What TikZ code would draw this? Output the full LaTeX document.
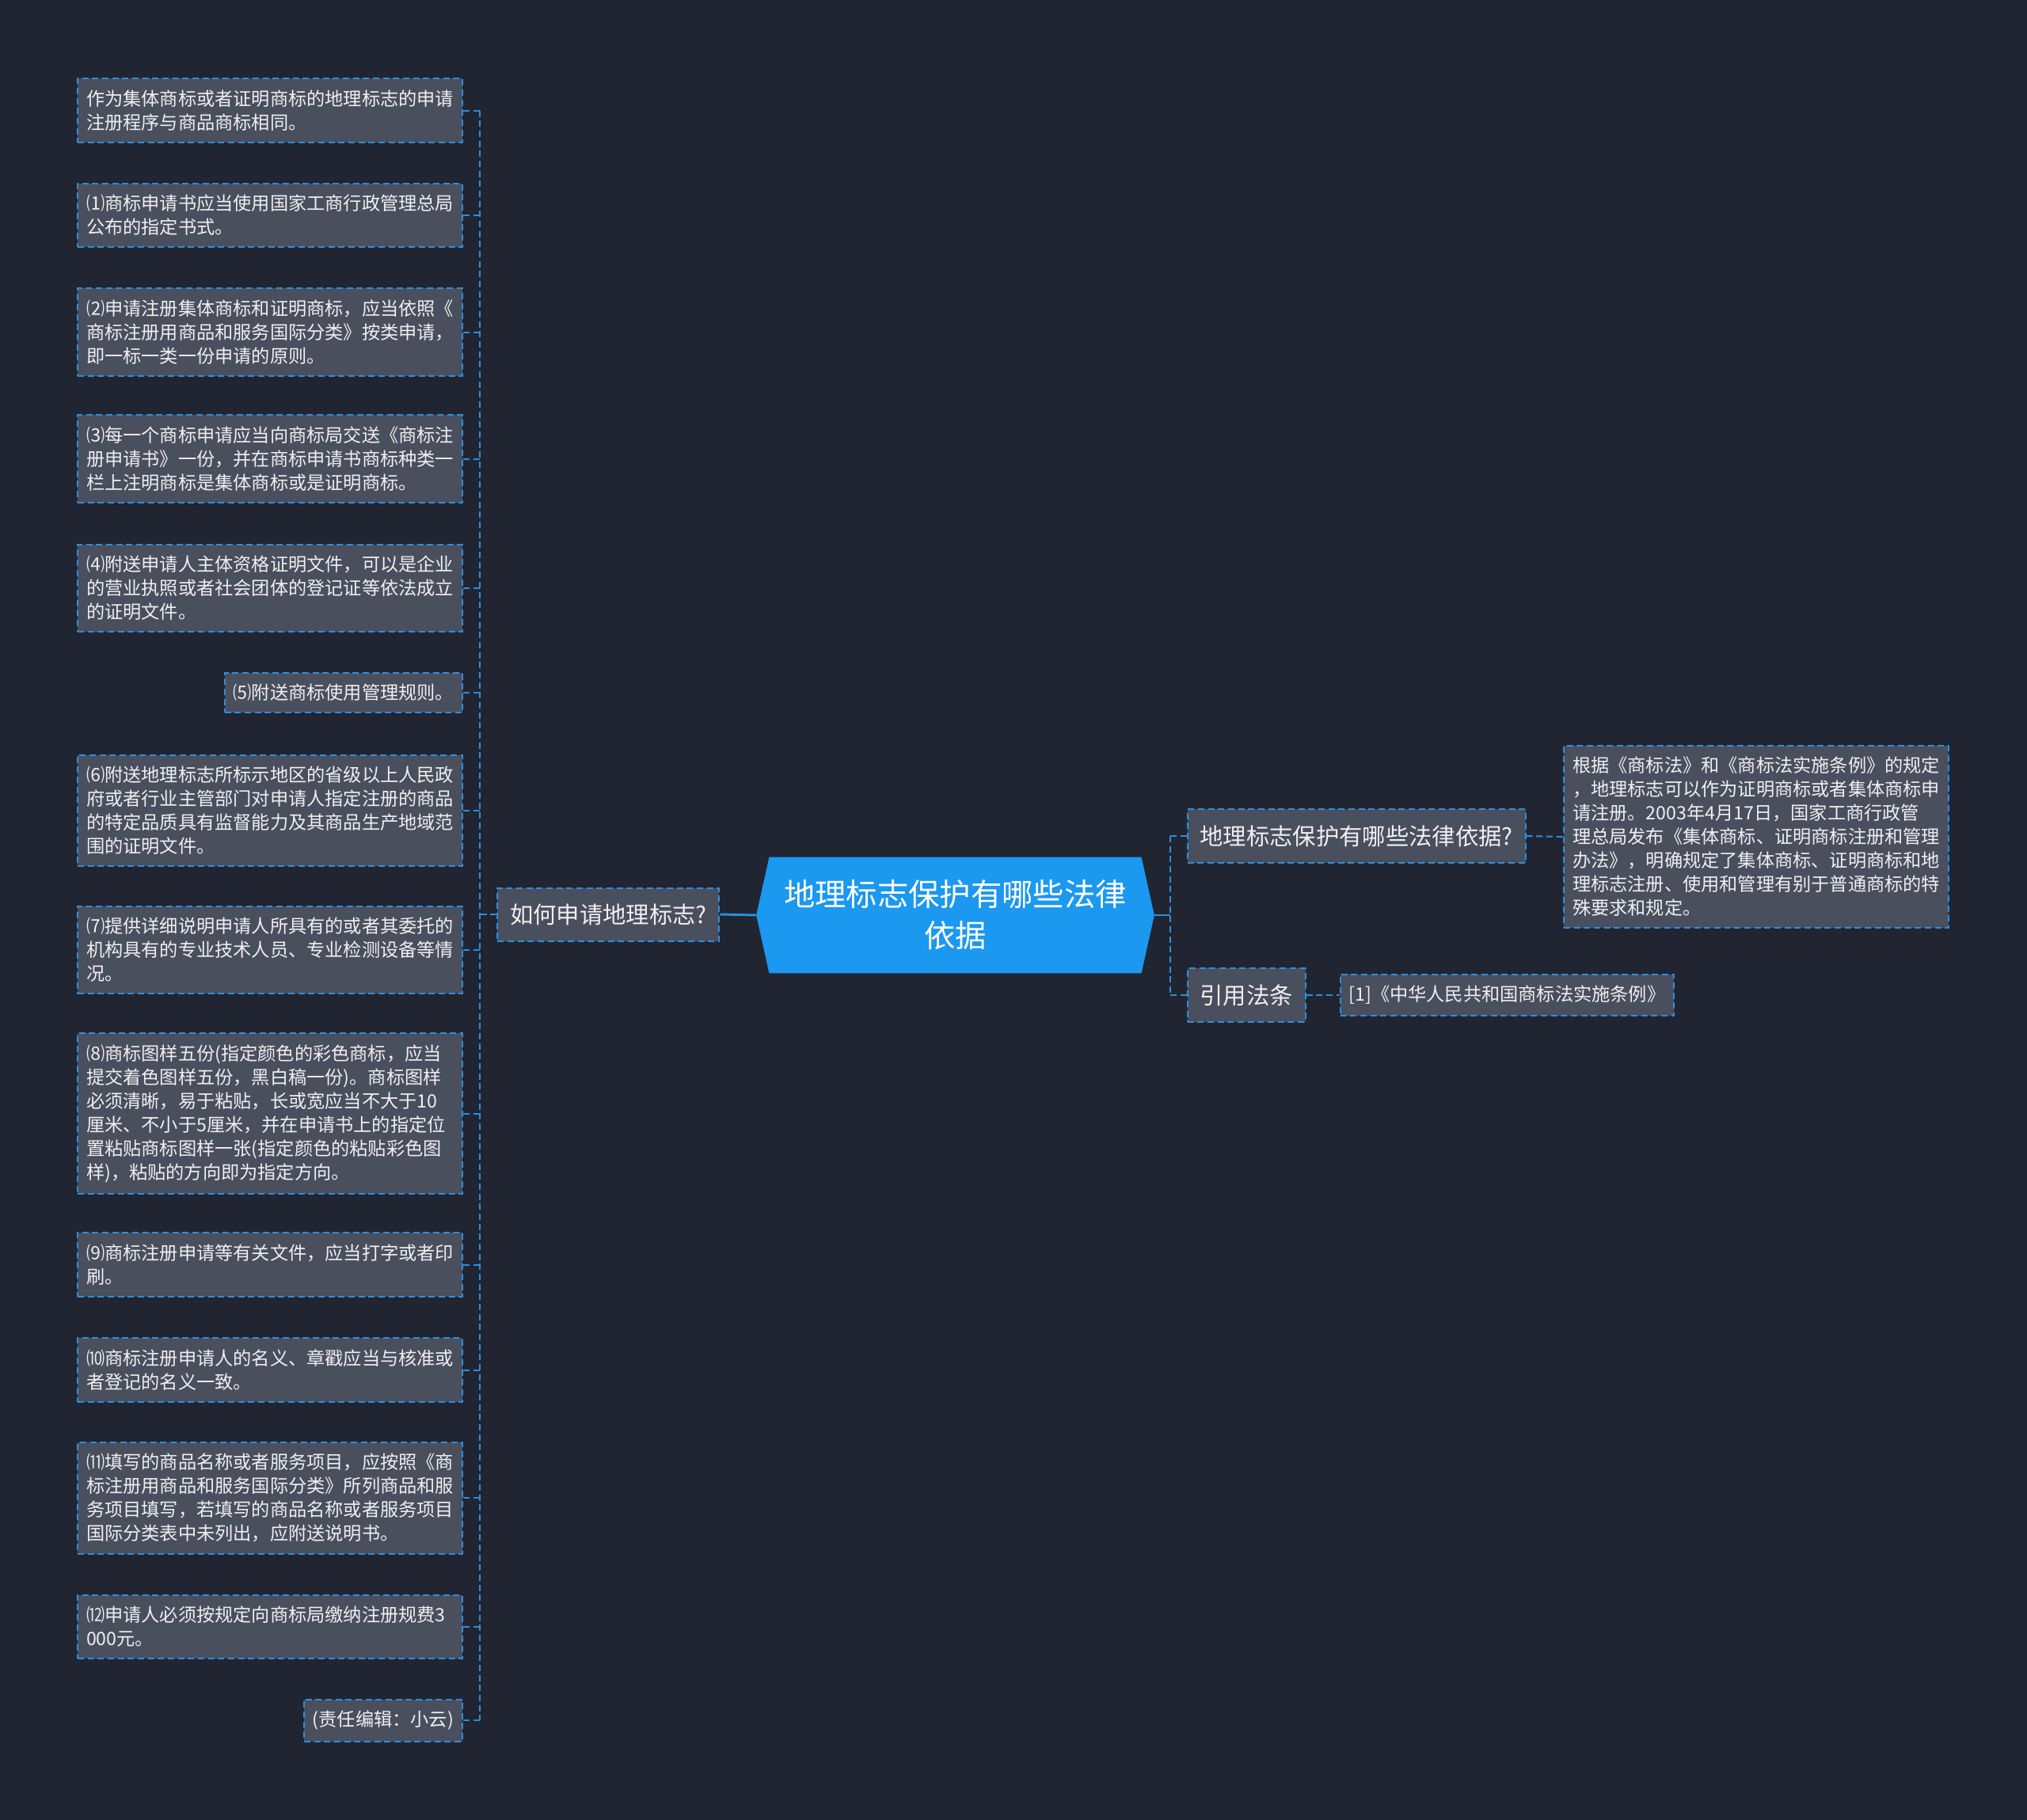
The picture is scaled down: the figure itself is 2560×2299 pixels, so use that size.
\documentclass[tikz,border=0pt]{standalone}
\usepackage{fontspec}
\setmainfont{Noto Sans CJK SC}
\usepackage{tikz}
\usetikzlibrary{shapes.symbols}

\definecolor{bgdark}{HTML}{212531}
\definecolor{boxgray}{HTML}{4A4F5E}
\definecolor{linkblue}{HTML}{2A8FE0}
\definecolor{rootblue}{HTML}{1B98F0}
\definecolor{txtlight}{HTML}{F0F0F0}

\tikzset{
  leaf/.style={draw=linkblue, line width=1.5pt, dash pattern=on 6pt off 3.5pt,
    fill=boxgray, text=txtlight, font=\fontsize{17.4}{22.5}\selectfont,
    inner xsep=8.25pt, inner ysep=10.8pt, anchor=east},
  widebox/.style={text width=348pt, align=left},
  topic/.style={leaf, font=\fontsize{22}{28}\selectfont, inner xsep=11.8pt, inner ysep=15pt},
  root/.style={shape=signal, signal to=west and east, signal pointer angle=155,
    fill=rootblue, text=white, font=\fontsize{29.5}{39}\selectfont, align=center,
    minimum width=377pt, minimum height=110pt, inner sep=0pt},
  link/.style={linkblue, line width=1.5pt, dash pattern=on 6pt off 3.5pt},
  solidlink/.style={linkblue, line width=2.2pt},
}

\begin{document}
\begin{tikzpicture}[x=0.75pt, y=-0.75pt]
    % background
    \fill[bgdark] (0,0) rectangle (2560,2299);
    \useasboundingbox (0,0) rectangle (2560,2299);

    % central topic
    \node[root] (root) at (1206.5,1156) {地理标志保护有哪些法律\\依据};

    % main branches
    \node[topic] (ask) at (909.4,1155) {如何申请地理标志?};
    \node[topic, anchor=west] (basis) at (1498.8,1056) {地理标志保护有哪些法律依据?};
    \node[topic, anchor=west] (cite) at (1498.8,1257) {引用法条};

    % right details
    \node[leaf, widebox, anchor=west] (basisTxt) at (1974,1057) {根据《商标法》和《商标法实施条例》的规定\\，地理标志可以作为证明商标或者集体商标申\\请注册。2003年4月17日，国家工商行政管\\理总局发布《集体商标、证明商标注册和管理\\办法》，明确规定了集体商标、证明商标和地\\理标志注册、使用和管理有别于普通商标的特\\殊要求和规定。};
    \node[leaf, anchor=west] (citeTxt) at (1691.5,1257) {[1]《中华人民共和国商标法实施条例》};

    % left details
    \node[leaf, widebox] (s0) at (585,139.6) {作为集体商标或者证明商标的地理标志的申请\\注册程序与商品商标相同。};
    \node[leaf, widebox] (s1) at (585,271.8) {⑴商标申请书应当使用国家工商行政管理总局\\公布的指定书式。};
    \node[leaf, widebox] (s2) at (585,419.6) {⑵申请注册集体商标和证明商标，应当依照《\\商标注册用商品和服务国际分类》按类申请，\\即一标一类一份申请的原则。};
    \node[leaf, widebox] (s3) at (585,579.6) {⑶每一个商标申请应当向商标局交送《商标注\\册申请书》一份，并在商标申请书商标种类一\\栏上注明商标是集体商标或是证明商标。};
    \node[leaf, widebox] (s4) at (585,742.9) {⑷附送申请人主体资格证明文件，可以是企业\\的营业执照或者社会团体的登记证等依法成立\\的证明文件。};
    \node[leaf] (s5) at (585,875) {⑸附送商标使用管理规则。};
    \node[leaf, widebox] (s6) at (585,1023.7) {⑹附送地理标志所标示地区的省级以上人民政\\府或者行业主管部门对申请人指定注册的商品\\的特定品质具有监督能力及其商品生产地域范\\围的证明文件。};
    \node[leaf, widebox] (s7) at (585,1200) {⑺提供详细说明申请人所具有的或者其委托的\\机构具有的专业技术人员、专业检测设备等情\\况。};
    \node[leaf, widebox] (s8) at (585,1406.6) {⑻商标图样五份(指定颜色的彩色商标，应当\\提交着色图样五份，黑白稿一份)。商标图样\\必须清晰，易于粘贴，长或宽应当不大于10\\厘米、不小于5厘米，并在申请书上的指定位\\置粘贴商标图样一张(指定颜色的粘贴彩色图\\样)，粘贴的方向即为指定方向。};
    \node[leaf, widebox] (s9) at (585,1597.6) {⑼商标注册申请等有关文件，应当打字或者印\\刷。};
    \node[leaf, widebox] (s10) at (585,1730.6) {⑽商标注册申请人的名义、章戳应当与核准或\\者登记的名义一致。};
    \node[leaf, widebox] (s11) at (585,1892.3) {⑾填写的商品名称或者服务项目，应按照《商\\标注册用商品和服务国际分类》所列商品和服\\务项目填写，若填写的商品名称或者服务项目\\国际分类表中未列出，应附送说明书。};
    \node[leaf, widebox] (s12) at (585,2054.7) {⑿申请人必须按规定向商标局缴纳注册规费3\\000元。};
    \node[leaf] (s13) at (585,2173) {(责任编辑：小云)};

    % left connectors
    \coordinate (lspine) at (606,0);
    \foreach \i in {0,...,13}
      \draw[link] (s\i.east) -- (s\i.east -| lspine);
    \draw[link] (s0.east -| lspine) -- (s13.east -| lspine);
    \draw[link] (ask.west) -- (ask.west -| lspine);
    \draw[solidlink] (ask.east) -- (root.west);

    % right connectors
    \coordinate (rspine) at (1477.6,0);
    \draw[solidlink] (root.east) -- (root.east -| rspine);
    \draw[link] (basis.west -| rspine) -- (cite.west -| rspine);
    \draw[link] (basis.west) -- (basis.west -| rspine);
    \draw[link] (cite.west) -- (cite.west -| rspine);
    \draw[link] (basis.east) -- (basisTxt.west);
    \draw[link] (cite.east) -- (citeTxt.west);
\end{tikzpicture}
\end{document}
